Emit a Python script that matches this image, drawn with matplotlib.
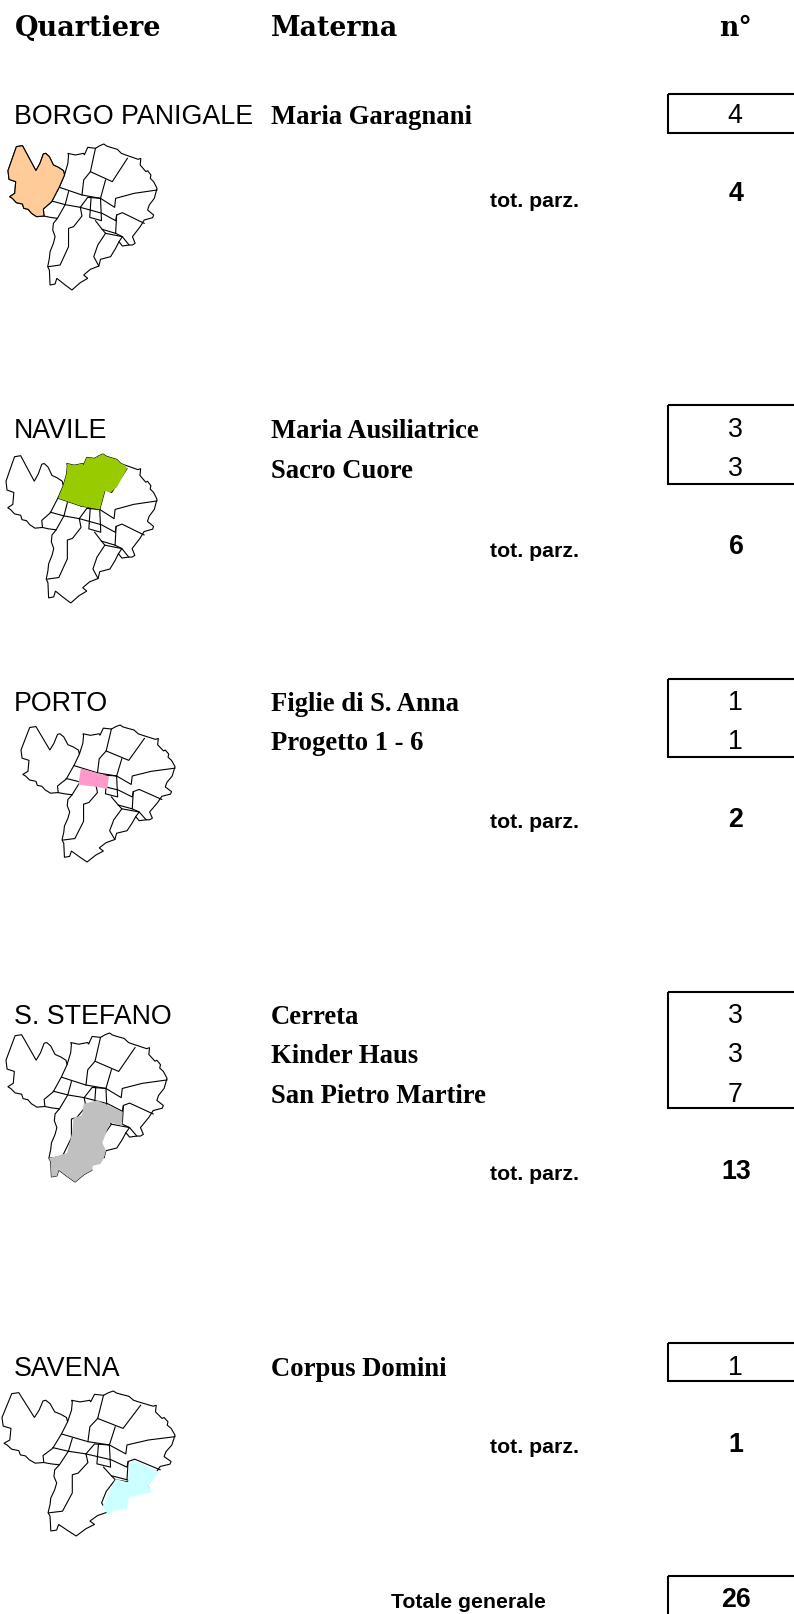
import matplotlib
matplotlib.use("Agg")
import matplotlib.pyplot as plt
from matplotlib.patches import Polygon, Rectangle

# table data
quartieri = ["BORGO PANIGALE", "NAVILE", "PORTO", "S. STEFANO", "SAVENA"]
materne = [
    ["Maria Garagnani"],
    ["Maria Ausiliatrice", "Sacro Cuore"],
    ["Figlie di S. Anna", "Progetto 1 - 6"],
    ["Cerreta", "Kinder Haus", "San Pietro Martire"],
    ["Corpus Domini"],
]
numeri = [[4], [3, 3], [1, 1], [3, 3, 7], [1]]
totali = [4, 6, 2, 13, 1]
totale_generale = 26

# layout in pixels of the page, y values are text baselines
row_base = [124, 438, 711, 1024, 1376]
box_top = [95, 406, 680, 993, 1344]
box_bottom = [134, 485, 758, 1109, 1382]
tot_label_y = [207, 557, 828, 1180, 1453]
tot_value_y = [201, 554, 827, 1179, 1452]
map_box = [(8, 157, 145, 291), (6, 157, 455, 604), (21, 175, 726, 863),
           (6, 167, 1034, 1183), (2, 175, 1392, 1537)]
row_step = 39.5

# map of the city
outline = [(50,50),(68,47),(108,122),(120,100),(130,72),(137,70),(148,80),(160,105),(175,112),(190,122),(193,135),
           (203,100),(205,75),(203,70),(225,75),(250,70),(252,75),(262,52),(285,55),(298,47),(310,42),(318,48),
           (330,52),(350,58),(362,70),(375,75),(395,82),(412,88),(420,85),(418,105),(435,125),(440,122),
           (450,135),(448,145),(458,155),(468,175),(460,205),(445,225),(440,240),(458,255),(455,263),(430,270),
           (418,290),(395,320),(403,340),(395,345),(385,345),(365,348),(355,335),(345,355),(330,380),(300,388),
           (295,408),(270,418),(250,435),(262,445),(240,458),(215,480),(195,465),(170,445),(165,462),(150,465),
           (148,420),(143,410),(148,385),(150,365),(160,340),(165,320),(158,300),(160,280),(172,265),(150,262),
           (132,258),(110,260),(95,250),(85,238),(72,235),(68,222),(50,218),(38,205),(30,200),(45,190),(48,155),
           (28,148),(25,122)]
inner_lines = [
    [(193,135),(178,170),(155,215),(130,237),(132,258)],
    [(178,172),(245,195),(300,205),(342,232),(345,205),(400,190),(468,180)],
    [(285,55),(270,125),(250,150),(245,195)],
    [(270,125),(335,155),(380,85)],
    [(315,150),(300,205)],
    [(155,213),(195,224),(240,232),(262,202),(300,205)],
    [(205,185),(195,224),(172,265)],
    [(272,203),(268,262),(303,272),(300,205)],
    [(240,232),(305,250),(345,272),(348,255),(365,248),(430,280)],
    [(240,232),(245,258),(220,290),(205,295),(205,350),(180,405),(145,410)],
    [(285,272),(305,298),(345,310),(348,255)],
    [(305,298),(315,310),(365,320),(355,335)],
    [(315,310),(292,345),(280,380),(295,408)],
    [(345,310),(365,320),(385,345)],
]
borgo_panigale = [(50,50),(68,47),(108,122),(120,100),(130,72),(137,70),(148,80),(160,105),(175,112),(190,122),
                  (193,135),(178,170),(155,215),(130,237),(132,258),(110,260),(95,250),(85,238),(72,235),(68,222),
                  (50,218),(38,205),(30,200),(45,190),(48,155),(28,148),(25,122)]
navile = [(193,135),(203,100),(205,75),(203,70),(225,75),(250,70),(252,75),(262,52),(285,55),(298,47),(310,42),
          (318,48),(330,52),(350,58),(362,70),(375,75),(380,85),(350,140),(330,155),(315,150),(300,205),(245,195),
          (178,172)]
porto = [(197,181),(278,206),(273,246),(244,240),(190,232)]
santo_stefano = [(276,240),(327,265),(345,275),(345,315),(313,305),(304,325),(290,365),(300,388),(295,408),
                 (285,427),(264,432),(262,445),(240,458),(215,480),(195,465),(170,445),(165,462),(150,465),
                 (148,420),(143,410),(193,395),(207,335),(211,290),(234,285),(239,250)]
savena = [(350,262),(365,252),(428,287),(400,328),(410,348),(350,363),(344,398),(312,403),
          (299,419),(282,393),(295,358),(316,308),(348,318)]
highlights = [borgo_panigale, navile, porto, santo_stefano, savena]
highlight_colors = ["#FFCC99", "#99CC00", "#FF99CC", "#C0C0C0", "#CCFFFF"]
highlight_edges = ["black", "none", "none", "none", "none"]

serif = "Liberation Serif"
sans = "Liberation Sans"

fig = plt.figure(figsize=(7.94, 16.15), dpi=100)
ax = fig.add_axes([0, 0, 1, 1])
ax.set_xlim(0, 794)
ax.set_ylim(1615, 0)
ax.axis("off")

# headers
ax.text(15, 36, "Quartiere", family="DejaVu Serif", weight="bold", fontsize=19.5, va="baseline")
ax.text(271, 36, "Materna", family="DejaVu Serif", weight="bold", fontsize=19.3, va="baseline")
ax.text(736, 36, "n°", family="DejaVu Serif", weight="bold", fontsize=19.3, va="baseline", ha="center")


def draw_map(box, shape, color, edge):
    x0, x1, y0, y1 = box
    # the template spans 25-468 by 42-480
    def fit(points):
        return [(x0 + (x - 25) / 443 * (x1 - x0), y0 + (y - 42) / 438 * (y1 - y0)) for x, y in points]
    ax.add_patch(Polygon(fit(outline), closed=True, fc="white", ec="black", lw=0.8, zorder=2))
    for line in inner_lines:
        pts = fit(line)
        ax.plot([p[0] for p in pts], [p[1] for p in pts], color="black", lw=0.8, zorder=3)
    ax.add_patch(Polygon(fit(shape), closed=True, fc=color, ec=edge, lw=0.8, zorder=4))


for i, name in enumerate(quartieri):
    base = row_base[i]
    ax.text(14, base, name, family=sans, fontsize=19.3, va="baseline")
    for j, school in enumerate(materne[i]):
        y = base + j * row_step
        ax.text(271, y, school, family=serif, weight="bold", fontsize=19.2, va="baseline")
        ax.text(735, y - 1, str(numeri[i][j]), family=sans, fontsize=19.3, va="baseline", ha="center")
    ax.add_patch(Rectangle((667.5, box_top[i]), 140, box_bottom[i] - box_top[i], fc="none", ec="black", lw=1.5))
    ax.text(534.5, tot_label_y[i], "tot. parz.", family=sans, weight="bold", fontsize=15.3,
            va="baseline", ha="center")
    ax.text(736, tot_value_y[i], str(totali[i]), family=sans, weight="bold", fontsize=19.3,
            va="baseline", ha="center")
    draw_map(map_box[i], highlights[i], highlight_colors[i], highlight_edges[i])

# grand total
ax.text(468, 1608, "Totale generale", family=sans, weight="bold", fontsize=15.3, va="baseline", ha="center")
ax.add_patch(Rectangle((667.5, 1577), 140, 50, fc="none", ec="black", lw=1.5))
ax.text(736, 1607, str(totale_generale), family=sans, weight="bold", fontsize=19.3, va="baseline", ha="center")

fig.savefig("out.png", dpi=100)
